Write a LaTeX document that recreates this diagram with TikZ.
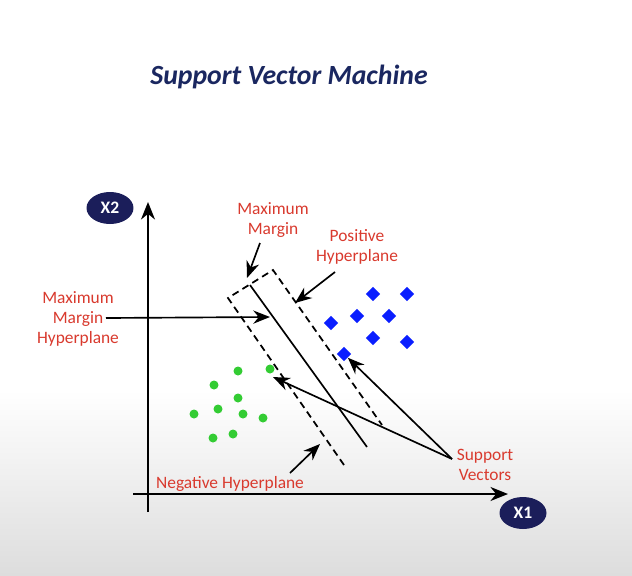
\documentclass[tikz,border=0pt]{standalone}
\usepackage{fontspec}
\setmainfont{Carlito}
\usepackage{tikz}
\usetikzlibrary{positioning, shapes.geometric, arrows.meta}
\definecolor{Navy}     {HTML}{1A2760}
\definecolor{AxisNavy} {HTML}{1B1E5A}
\definecolor{LabelRed} {HTML}{D93A2E}
\definecolor{PosBlue}  {HTML}{0A1EFF}
\definecolor{NegGreen} {HTML}{33CC33}
\definecolor{BgGray}   {HTML}{DDDDDD}

\begin{document}
\begin{tikzpicture}[x=0.02cm, y=-0.02cm,
    lbl/.style={font=\fontsize{9.9}{11.3}\selectfont, text=LabelRed, align=center, inner sep=0pt},
    axlbl/.style={ellipse, fill=AxisNavy, text=white, font=\bfseries\fontsize{10}{12}\selectfont,
                  minimum width=0.94cm, minimum height=0.64cm, inner sep=0pt},
    posdot/.style={diamond, fill=PosBlue, minimum width=0.29cm, minimum height=0.29cm, inner sep=0pt},
    negdot/.style={circle, fill=NegGreen, minimum size=0.18cm, inner sep=0pt},
    axisline/.style={-{Stealth[length=10pt, width=8pt]}, line width=0.9pt},
    ptr/.style={-{Stealth[length=9.5pt, width=7.5pt]}, line width=0.95pt},
    marginline/.style={line width=1pt, dash pattern=on 4pt off 2.6pt}]
      % ── background: white page, grey towards the bottom ─────────────────────
      \useasboundingbox (0,0) rectangle (632,575);
      \fill[white] (0,0) rectangle (632,575);
      \shade[top color=white, bottom color=BgGray] (0,390) rectangle (632,575);
      % ── title ────────────────────────────────────────────────────────────────
      \node[font=\bfseries\itshape\fontsize{15.8}{19}\selectfont, text=Navy]
        (title) at (289,77) {Support Vector Machine};
      % ── axes ─────────────────────────────────────────────────────────────────
      \coordinate (yfoot) at (148,512);
      \coordinate (ytip)  at (148,202);
      \coordinate (xfoot) at (133,494);
      \coordinate (xtip)  at (508,494);
      \draw[axisline] (yfoot) -- (ytip);
      \draw[axisline] (xfoot) -- (xtip);
      \node[axlbl] (x2) at (110,208) {X2};
      \node[axlbl] (x1) at (523,513) {X1};
      % ── hyperplane and dashed margin ─────────────────────────────────────────
      \coordinate (hTop) at (250,285);
      \coordinate (hBot) at (367,447);
      \draw[line width=0.95pt] (hTop) -- (hBot);
      \coordinate (negEnd) at (344,465);
      \coordinate (negTop) at (228,298);
      \coordinate (posTop) at (273,270);
      \coordinate (posEnd) at (382,425);
      \draw[marginline] (negEnd) -- (negTop) -- (posTop) -- (posEnd);
      % ── positive class (diamonds) ────────────────────────────────────────────
      \foreach \x/\y [count=\k] in {373/294, 407/294, 357/316, 389/316,
                                    331/323, 373/338, 407/342, 344/354} {
        \node[posdot] (p\k) at (\x,\y) {};
      }
      % ── negative class (dots) ────────────────────────────────────────────────
      \foreach \x/\y [count=\k] in {238/371, 270/369, 214/385, 238/398, 218/409,
                                    194/414, 243/414, 263/418, 213/438, 233/434} {
        \node[negdot] (n\k) at (\x,\y) {};
      }
      % ── labels ───────────────────────────────────────────────────────────────
      \node[lbl] (mmLbl)  at (273,220) {Maximum\\Margin};
      \node[lbl] (posLbl) at (357,247) {Positive\\Hyperplane};
      \node[lbl] (mmhLbl) at (78,319)  {Maximum\\Margin\\Hyperplane};
      \node[lbl] (svLbl)  at (485,465) {Support\\Vectors};
      \node[lbl] (negLbl) at (230,484) {Negative Hyperplane};
      % ── pointers ─────────────────────────────────────────────────────────────
      \coordinate (mmFrom)  at (260,243);
      \coordinate (mmTip)   at (247,278);
      \coordinate (posFrom) at (335,272);
      \coordinate (posTip)  at (295,303);
      \coordinate (mmhFrom) at (106,318);
      \coordinate (mmhTip)  at (270,317);
      \coordinate (negFrom) at (290,473);
      \coordinate (negTip)  at (320,444);
      \coordinate (svFrom)  at (452,459);
      \coordinate (svTip)   at (273,377);
      \draw[ptr] (mmFrom)  -- (mmTip);
      \draw[ptr] (posFrom) -- (posTip);
      \draw[ptr] (mmhFrom) -- (mmhTip);
      \draw[ptr] (negFrom) -- (negTip);
      \draw[ptr] (svFrom)  -- (p8);
      \draw[ptr] (svFrom)  -- (svTip);
\end{tikzpicture}
\end{document}
